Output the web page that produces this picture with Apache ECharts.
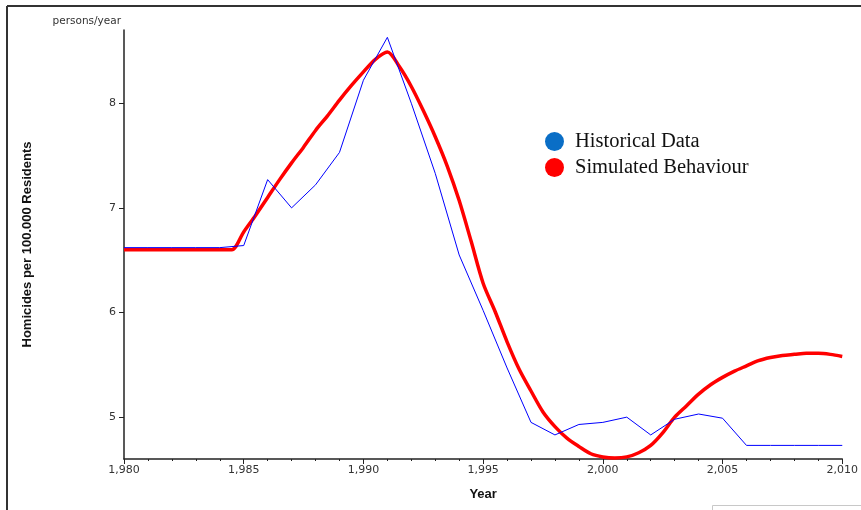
<!DOCTYPE html>
<html>
<head>
<meta charset="utf-8">
<script src="https://cdn.jsdelivr.net/npm/echarts@6/dist/echarts.min.js"></script>
<style>
html,body{margin:0;padding:0;background:#fff;}
#chart{width:861px;height:510px;}
</style>
</head>
<body>
<div id="chart"></div>
<script>
// ---- Data ----
const histYears = [1980,1981,1982,1983,1984,1985,1986,1987,1988,1989,1990,1991,1992,1993,1994,1995,1996,1997,1998,1999,2000,2001,2002,2003,2004,2005,2006,2007,2008,2009,2010];
const histValues = [6.62,6.62,6.62,6.62,6.62,6.64,7.27,7.00,7.22,7.53,8.22,8.63,8.00,7.33,6.55,6.02,5.47,4.95,4.83,4.93,4.95,5.00,4.83,4.98,5.03,4.99,4.73,4.73,4.73,4.73,4.73];

const simYears = [1980,1981,1982,1983,1984,1984.5,1985,1985.5,1986,1986.5,1987,1987.5,1988,1988.5,1989,1989.5,1990,1990.5,1991,1991.5,1992,1992.5,1993,1993.5,1994,1994.5,1995,1995.5,1996,1996.5,1997,1997.5,1998,1998.5,1999,1999.5,2000,2000.5,2001,2001.5,2002,2002.5,2003,2003.5,2004,2004.5,2005,2005.5,2006,2006.5,2007,2007.5,2008,2008.5,2009,2009.5,2010];
const simValues = [6.60,6.60,6.60,6.60,6.60,6.60,6.77,6.93,7.10,7.27,7.43,7.58,7.74,7.88,8.03,8.17,8.30,8.42,8.49,8.35,8.16,7.93,7.68,7.40,7.07,6.68,6.28,6.01,5.72,5.46,5.25,5.05,4.91,4.80,4.72,4.65,4.62,4.61,4.62,4.66,4.73,4.85,5.00,5.11,5.22,5.31,5.38,5.44,5.49,5.54,5.57,5.59,5.60,5.61,5.61,5.60,5.58];

const yTickValues = [5,6,7,8];
const seriesNames = ['Historical Data','Simulated Behaviour'];
const xAxisTitle = 'Year';
const yAxisTitle = 'Homicides per 100.000 Residents';
const unitLabel = 'persons/year';

// ---- Chart ----
const chart = echarts.init(document.getElementById('chart'), null, {renderer:'canvas'});
const fmt = v => String(v).replace(/\B(?=(\d{3})+(?!\d))/g, ',');
const labelFont = {color:'#333', fontFamily:'DejaVu Sans', fontSize:11};

chart.setOption({
  animation:false,
  backgroundColor:'#fff',
  grid:{left:124, right:16, top:30, bottom:51},
  legend:{
    orient:'vertical', left:545, top:131, itemGap:5, padding:0,
    itemWidth:19, itemHeight:19, icon:'circle',
    textStyle:{fontFamily:'Liberation Serif', fontSize:20.5, color:'#111', padding:[0,0,0,6]},
    data:[
      {name:seriesNames[0], itemStyle:{color:'#0a6ec6'}},
      {name:seriesNames[1], itemStyle:{color:'#ff0000'}}
    ]
  },
  xAxis:{
    type:'value', min:1980, max:2010, interval:5,
    name:xAxisTitle, nameLocation:'middle', nameGap:29,
    nameTextStyle:{fontFamily:'Liberation Sans', fontWeight:'bold', fontSize:13, color:'#111'},
    axisLine:{show:true, lineStyle:{color:'#222', width:1.5}},
    axisTick:{show:true, length:5, lineStyle:{color:'#222'}},
    minorTick:{show:true, splitNumber:5, length:2, lineStyle:{color:'#222'}},
    splitLine:{show:false},
    axisLabel:Object.assign({formatter:fmt, margin:6}, labelFont)
  },
  yAxis:{
    type:'value', min:4.6, max:8.7,
    name:yAxisTitle, nameLocation:'middle', nameGap:90, nameRotate:90,
    nameTextStyle:{fontFamily:'Liberation Sans', fontWeight:'bold', fontSize:13, color:'#111'},
    axisLine:{show:true, lineStyle:{color:'#222', width:1.5}},
    axisTick:{show:true, length:5, customValues:yTickValues, lineStyle:{color:'#222', width:1}},
    splitLine:{show:false},
    axisLabel:Object.assign({customValues:yTickValues, margin:8}, labelFont)
  },
  graphic:[
    {type:'line', shape:{x1:7, y1:6, x2:861, y2:6}, style:{stroke:'#333', lineWidth:2}},
    {type:'line', shape:{x1:7, y1:6, x2:7, y2:510}, style:{stroke:'#333', lineWidth:2}},
    {type:'rect', shape:{x:712.5, y:505.5, width:150, height:10}, style:{stroke:'#c8c8c8', fill:'#fff', lineWidth:1}},
    {type:'text', right:861-121, top:16, style:{text:unitLabel, fontFamily:'DejaVu Sans', fontSize:10.5, fill:'#333'}}
  ],
  series:[
    {
      name:seriesNames[1], type:'line', showSymbol:false, smooth:0.3,
      data:simYears.map((y,i)=>[y, simValues[i]]),
      lineStyle:{color:'#ff0000', width:3.5}, itemStyle:{color:'#ff0000'}, z:2
    },
    {
      name:seriesNames[0], type:'line', showSymbol:false, smooth:false,
      data:histYears.map((y,i)=>[y, histValues[i]]),
      lineStyle:{color:'#0000ff', width:1}, itemStyle:{color:'#0a6ec6'}, z:3
    }
  ]
});
</script>
</body>
</html>
